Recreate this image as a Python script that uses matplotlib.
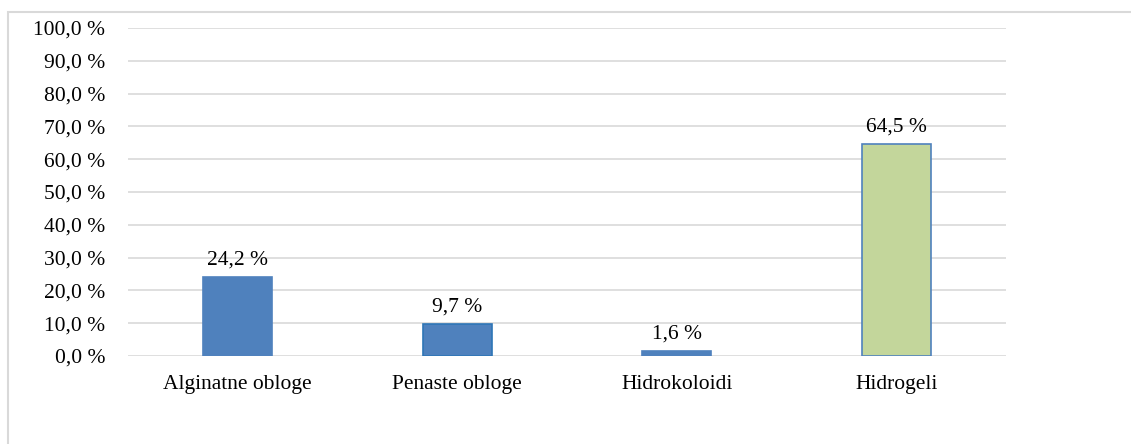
import matplotlib.pyplot as plt
from matplotlib.patches import Rectangle

categories = ['Alginatne obloge', 'Penaste obloge', 'Hidrokoloidi', 'Hidrogeli']
values = [24.2, 9.7, 1.6, 64.5]
fill_colors = ['#4F81BD', '#4F81BD', '#4F81BD', '#C3D69B']
edge_colors = ['#4F81BD', '#2E75B6', '#4F81BD', '#4F81BD']

plt.rcParams['font.family'] = ['Liberation Serif', 'DejaVu Serif']
plt.rcParams['font.size'] = 15.5

fig = plt.figure(figsize=(11.31, 4.44), dpi=100)
W, H = 1131, 444

# light frame around the chart area (open on the right and bottom)
frame = Rectangle((7.5 / W, -0.5), 1.2, 1.5 - 12.5 / H, transform=fig.transFigure,
                  fill=False, edgecolor='#D9D9D9', linewidth=1.5, clip_on=False)
fig.patches.append(frame)

ax = fig.add_axes([128 / W, 1 - 356 / H, (1006 - 128) / W, (356 - 28) / H])

x = range(len(categories))
bars = ax.bar(x, values, width=0.315, color=fill_colors, edgecolor=edge_colors,
              linewidth=1.2, zorder=3)

for rect, v in zip(bars, values):
    ax.text(rect.get_x() + rect.get_width() / 2, v + 2.3,
            f'{v:.1f} %'.replace('.', ','), ha='center', va='bottom')

ax.set_xlim(-0.5, 3.5)
ax.set_ylim(0, 100)
ax.set_yticks(range(0, 101, 10))
ax.set_yticklabels([f'{t:.1f} %'.replace('.', ',') for t in range(0, 101, 10)])
ax.set_xticks(list(x))
ax.set_xticklabels(categories)

ax.grid(axis='y', color='#D9D9D9', linewidth=1.2, zorder=0)
ax.set_axisbelow(True)
for s in ax.spines.values():
    s.set_visible(False)
ax.tick_params(axis='both', length=0)
ax.tick_params(axis='y', pad=16.5)
ax.tick_params(axis='x', pad=14)

fig.savefig('out.png', dpi=100)
